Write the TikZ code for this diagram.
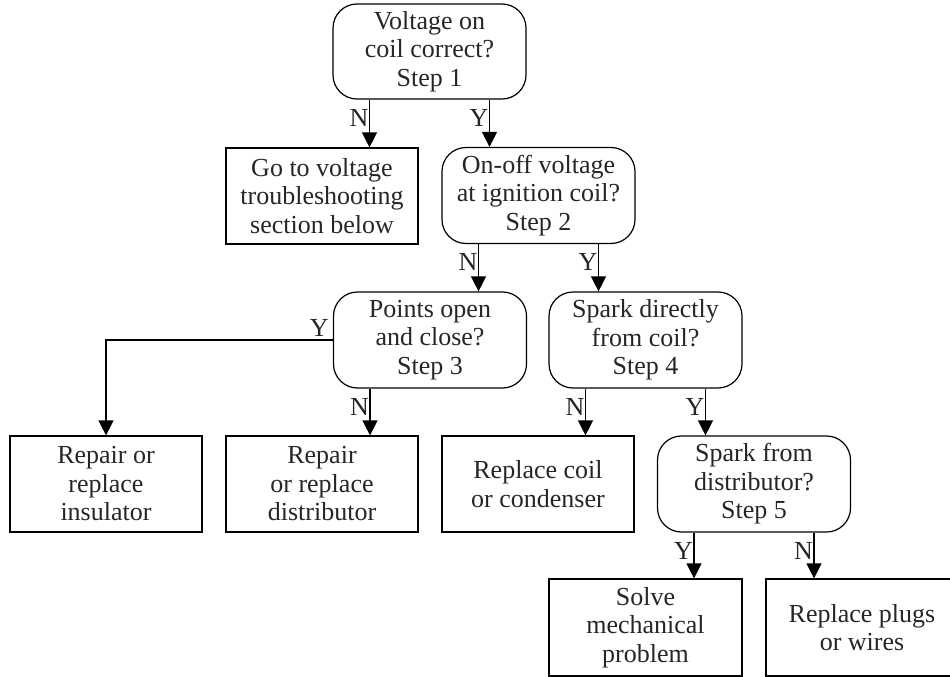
\documentclass[tikz,border=0pt]{standalone}
\usepackage{fontspec}
\setmainfont{Liberation Serif}
\usetikzlibrary{arrows.meta}
\tikzset{
  base/.style={draw=black, line width=1.2pt, align=center, inner sep=0pt,
    minimum width=193pt, minimum height=96pt,
    font=\fontsize{26}{28.5}\selectfont, text=black!85},
  decision/.style={base, rounded corners=24pt},
  action/.style={base, minimum width=192pt},
  arr/.style={line width=1.2pt, -{Triangle[length=15pt,width=15pt]}},
  lab/.style={font=\fontsize{26}{28}\selectfont, inner sep=1pt, text=black!85}
}
\begin{document}
\begin{tikzpicture}[x=1pt,y=-1pt]
\clip (0,0) rectangle (950,677);
\useasboundingbox (0,0) rectangle (950,677);

\node[decision, minimum height=95pt] (s1) at (429.5,51.5) {Voltage on\\coil correct?\\Step 1};
\node[action] (go) at (322,196) {Go to voltage\\troubleshooting\\section below};
\node[decision] (s2) at (538.5,195.5) {On-off voltage\\at ignition coil?\\Step 2};
\node[decision] (s3) at (430,340) {Points open\\and close?\\Step 3};
\node[decision] (s4) at (645.5,340) {Spark directly\\from coil?\\Step 4};
\node[action] (ins) at (106,484) {Repair or\\replace\\insulator};
\node[action] (dist) at (322,484) {Repair\\or replace\\distributor};
\node[action] (coil) at (538,484) {Replace coil\\or condenser};
\node[decision] (s5) at (754,484) {Spark from\\distributor?\\Step 5};
\node[action, minimum width=193pt, minimum height=97pt] (solve) at (645.5,627.5) {Solve\\mechanical\\problem};
\node[action, minimum height=97pt] (plugs) at (862,627.5) {Replace plugs\\or wires};

% Step 1
\draw[arr] ([xshift=-60pt]s1.south) coordinate (a1) -- (a1 |- go.north);
\node[lab, anchor=east] at ([yshift=-18pt]a1) {N};
\draw[arr] ([xshift=60pt]s1.south) coordinate (a2) -- (a2 |- s2.north);
\node[lab, anchor=east] at ([yshift=-18pt]a2) {Y};

% Step 2
\draw[arr] ([xshift=-60pt]s2.south) coordinate (b1) -- (b1 |- s3.north);
\node[lab, anchor=east] at ([yshift=-18pt]b1) {N};
\draw[arr] ([xshift=60pt]s2.south) coordinate (b2) -- (b2 |- s4.north);
\node[lab, anchor=east] at ([yshift=-18pt]b2) {Y};

% Step 3
\draw[arr] (s3.west) -| (ins.north);
\node[lab, anchor=south east] at ([xshift=-3pt,yshift=2pt]s3.west) {Y};
\draw[arr] ([xshift=-60pt]s3.south) coordinate (c1) -- (c1 |- dist.north);
\node[lab, anchor=east] at ([yshift=-18pt]c1) {N};

% Step 4
\draw[arr] ([xshift=-60pt]s4.south) coordinate (d1) -- (d1 |- coil.north);
\node[lab, anchor=east] at ([yshift=-18pt]d1) {N};
\draw[arr] ([xshift=60pt]s4.south) coordinate (d2) -- (d2 |- s5.north);
\node[lab, anchor=east] at ([yshift=-18pt]d2) {Y};

% Step 5
\draw[arr] ([xshift=-60pt]s5.south) coordinate (e1) -- (e1 |- solve.north);
\node[lab, anchor=east] at ([yshift=-18pt]e1) {Y};
\draw[arr] ([xshift=60pt]s5.south) coordinate (e2) -- (e2 |- plugs.north);
\node[lab, anchor=east] at ([yshift=-18pt]e2) {N};
\end{tikzpicture}
\end{document}
